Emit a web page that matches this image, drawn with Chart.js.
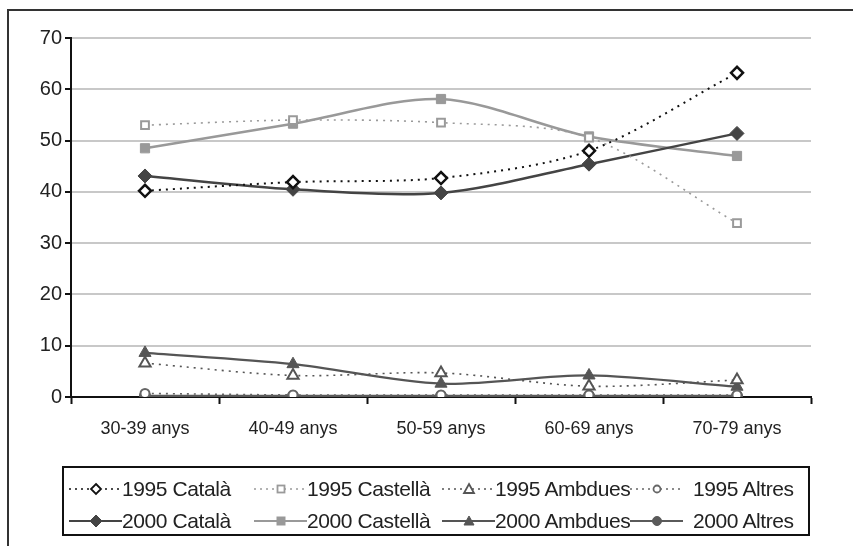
<!DOCTYPE html>
<html>
<head>
<meta charset="utf-8">
<script src="https://cdn.jsdelivr.net/npm/chart.js@4/dist/chart.umd.min.js"></script>
<style>
  html, body { margin: 0; padding: 0; background: #fff; }
  #wrap { position: relative; width: 853px; height: 546px; overflow: hidden; background: #fff;
          font-family: "Liberation Sans", Arial, sans-serif; }
  #frame { position: absolute; left: 7px; top: 9px; width: 860px; height: 560px;
           border-left: 2px solid #333; border-top: 2px solid #333; }
  #chart { position: absolute; left: 0; top: 0; }
  #legend { position: absolute; left: 62px; top: 466px; width: 744px; height: 66px;
            border: 2px solid #111; }
  .item { position: absolute; height: 30px; display: flex; align-items: center; white-space: nowrap; }
  .item svg { display: block; }
  .item span { font-size: 21px; color: #222; letter-spacing: -0.4px; }
</style>
</head>
<body>
<div id="wrap">
  <div id="frame"></div>
  <canvas id="chart" width="853" height="546"></canvas>
  <div id="legend"></div>
</div>
<script>
// Age groups on the x axis
const categories = ['30-39 anys', '40-49 anys', '50-59 anys', '60-69 anys', '70-79 anys'];

// Percentages per language, survey of 1995
const catala1995   = [40.2, 41.9, 42.7, 48.0, 63.2];
const castella1995 = [53.0, 54.0, 53.5, 50.6, 33.9];
const ambdues1995  = [6.6, 4.2, 4.7, 2.1, 3.3];
const altres1995   = [0.7, 0.4, 0.4, 0.4, 0.4];

// Percentages per language, survey of 2000
const catala2000   = [43.1, 40.5, 39.8, 45.4, 51.4];
const castella2000 = [48.5, 53.3, 58.1, 50.8, 47.0];
const ambdues2000  = [8.6, 6.4, 2.6, 4.2, 2.0];
const altres2000   = [0.2, 0.2, 0.2, 0.2, 0.2];

// Y axis range
const yMin = 0, yMax = 70, yStep = 10;

const seriesNames = ['1995 Català', '1995 Castellà', '1995 Ambdues', '1995 Altres',
                     '2000 Català', '2000 Castellà', '2000 Ambdues', '2000 Altres'];
const seriesData = [catala1995, castella1995, ambdues1995, altres1995,
                    catala2000, castella2000, ambdues2000, altres2000];

// Visual style of each series
const styles = [
  { color: '#111', dash: [2, 5], width: 2,   point: 'rectRot',  radius: 6,   fill: '#fff', pbw: 2.5 },
  { color: '#9a9a9a', dash: [2, 5], width: 1.6, point: 'rect', radius: 5.5, fill: '#fff', pbw: 2 },
  { color: '#555', dash: [2, 5], width: 1.6, point: 'triangle', radius: 6.5, fill: '#fff', pbw: 2 },
  { color: '#666', dash: [2, 5], width: 1.6, point: 'circle',   radius: 4.5, fill: '#fff', pbw: 2 },
  { color: '#444', dash: [],     width: 2.5, point: 'rectRot',  radius: 7,   fill: '#444', pbw: 1 },
  { color: '#999', dash: [],     width: 2.5, point: 'rect',     radius: 6.5, fill: '#999', pbw: 1 },
  { color: '#555', dash: [],     width: 2.2, point: 'triangle', radius: 7,   fill: '#555', pbw: 1 },
  { color: '#5a5a5a', dash: [],  width: 2.2, point: 'circle',   radius: 5.5, fill: '#5a5a5a', pbw: 1 }
];

const datasets = seriesNames.map((name, i) => ({
  label: name,
  data: seriesData[i],
  borderColor: styles[i].color,
  borderWidth: styles[i].width,
  borderDash: styles[i].dash,
  tension: 0.3,
  fill: false,
  pointStyle: styles[i].point,
  pointRadius: styles[i].radius,
  pointBackgroundColor: styles[i].fill,
  pointBorderColor: styles[i].color,
  pointBorderWidth: styles[i].pbw
}));

new Chart(document.getElementById('chart'), {
  type: 'line',
  data: { labels: categories, datasets },
  options: {
    responsive: false,
    animation: false,
    layout: { padding: { top: 38, right: 42, bottom: 0, left: 0 } },
    plugins: { legend: { display: false }, tooltip: { enabled: false } },
    scales: {
      x: {
        offset: true,
        grid: { offset: true, drawOnChartArea: false, drawTicks: true, tickLength: 7, tickColor: '#111', tickWidth: 2 },
        border: { color: '#111', width: 2 },
        ticks: { color: '#222', font: { family: 'Liberation Sans', size: 18 }, padding: 14, maxRotation: 0 },
        afterFit: s => { s.height = 149; }
      },
      y: {
        min: yMin, max: yMax,
        ticks: { stepSize: yStep, color: '#222', font: { family: 'Liberation Sans', size: 20 }, padding: 3 },
        grid: { color: '#c8c8c8', lineWidth: 2, tickLength: 6, tickColor: '#111', tickWidth: 2 },
        border: { color: '#111', width: 2 },
        afterFit: s => { s.width = 71; }
      }
    }
  }
});

// Legend built from the same series list
function markerSvg(st) {
  const cx = 27, cy = 15;
  const fill = st.fill, stroke = st.color;
  const sw = st.dash.length ? 1.8 : 1;
  if (st.point === 'rectRot') {
    const r = st.dash.length ? 5 : 6;
    return `<polygon points="${cx},${cy - r} ${cx + r},${cy} ${cx},${cy + r} ${cx - r},${cy}" fill="${fill}" stroke="${stroke}" stroke-width="${sw}"/>`;
  }
  if (st.point === 'rect') {
    const r = st.dash.length ? 3.5 : 4;
    return `<rect x="${cx - r}" y="${cy - r}" width="${2 * r}" height="${2 * r}" fill="${fill}" stroke="${stroke}" stroke-width="${sw}"/>`;
  }
  if (st.point === 'triangle') {
    const r = 5;
    return `<polygon points="${cx},${cy - r} ${cx + r},${cy + r * 0.8} ${cx - r},${cy + r * 0.8}" fill="${fill}" stroke="${stroke}" stroke-width="${sw}"/>`;
  }
  return `<circle cx="${cx}" cy="${cy}" r="${st.dash.length ? 3.5 : 4.5}" fill="${fill}" stroke="${stroke}" stroke-width="${sw}"/>`;
}

const legend = document.getElementById('legend');
const colLeft = [5, 190, 378, 566];
const rowTop = [6, 38];
seriesNames.forEach((name, i) => {
  const st = styles[i];
  const col = i % 4, row = Math.floor(i / 4);
  const div = document.createElement('div');
  div.className = 'item';
  div.style.left = colLeft[col] + 'px';
  div.style.top = rowTop[row] + 'px';
  const dash = st.dash.length ? 'stroke-dasharray="2,4"' : '';
  const gap = col === 3 ? 10 : 0;
  div.innerHTML =
    `<svg width="${53 + gap}" height="30"><line x1="0" y1="15" x2="53" y2="15" stroke="${st.color}" stroke-width="${st.dash.length ? 1.5 : 2}" ${dash}/>${markerSvg(st)}</svg>` +
    `<span>${name}</span>`;
  legend.appendChild(div);
});
</script>
</body>
</html>
